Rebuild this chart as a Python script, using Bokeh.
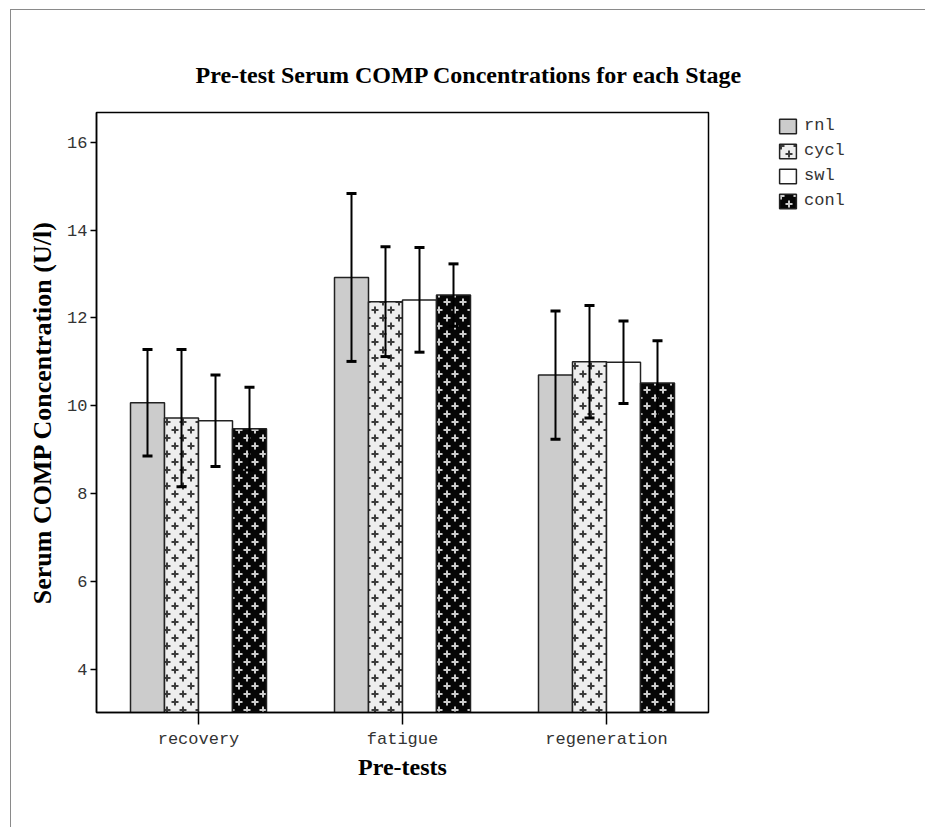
import base64
import struct
import zlib

from bokeh.core.properties import value
from bokeh.embed import file_html
from bokeh.models import (ColumnDataSource, FactorRange, FixedTicker, ImageURLTexture,
                          Legend, LegendItem, Range1d, Whisker)
from bokeh.plotting import figure
from bokeh.resources import INLINE
from bokeh.transform import dodge

# ---------------- data ----------------
categories = ["recovery", "fatigue", "regeneration"]
series = ["rnl", "cycl", "swl", "conl"]

rnl_mean = [10.07, 12.92, 10.70]
rnl_err = [1.21, 1.91, 1.46]
cycl_mean = [9.72, 12.37, 11.00]
cycl_err = [1.56, 1.25, 1.28]
swl_mean = [9.66, 12.41, 10.99]
swl_err = [1.04, 1.19, 0.94]
conl_mean = [9.48, 12.52, 10.52]
conl_err = [0.94, 0.71, 0.96]

y_ticks = [4, 6, 8, 10, 12, 14, 16]

means = {"rnl": rnl_mean, "cycl": cycl_mean, "swl": swl_mean, "conl": conl_mean}
errs = {"rnl": rnl_err, "cycl": cycl_err, "swl": swl_err, "conl": conl_err}


# ---------------- pattern textures ----------------
def make_png(w, h, pixel):
    rows = []
    for yy in range(h):
        row = bytearray([0])
        for xx in range(w):
            row.extend(pixel(xx, yy))
        rows.append(bytes(row))
    raw = b"".join(rows)

    def chunk(t, d):
        c = struct.pack(">I", len(d)) + t + d
        return c + struct.pack(">I", zlib.crc32(t + d) & 0xFFFFFFFF)

    png = (b"\x89PNG\r\n\x1a\n"
           + chunk(b"IHDR", struct.pack(">IIBBBBB", w, h, 8, 6, 0, 0, 0))
           + chunk(b"IDAT", zlib.compress(raw))
           + chunk(b"IEND", b""))
    return "data:image/png;base64," + base64.b64encode(png).decode()


def plus_tile(bg, fg, mid, size=16):
    centers = [(4, 4), (12, 12)]

    def pix(x, y):
        for cx, cy in centers:
            dx, dy = x - cx, y - cy
            if (-1 <= dy <= 0 and -3 <= dx <= 2) or (-1 <= dx <= 0 and -3 <= dy <= 2):
                return (*fg, 255)
        for cx, cy in centers:
            dx, dy = x - cx, y - cy
            if (-1 <= dy <= 0 and -4 <= dx <= 3) or (-1 <= dx <= 0 and -4 <= dy <= 3):
                return (*mid, 255)
        return (*bg, 255)

    return make_png(size, size, pix)


cycl_tex = ImageURLTexture(url=plus_tile((238, 238, 238), (60, 60, 60), (150, 150, 150)))
conl_tex = ImageURLTexture(url=plus_tile((6, 6, 6), (205, 205, 205), (110, 110, 110)))

styles = {
    "rnl": dict(fill_color="#cccccc"),
    "cycl": dict(fill_color="#eeeeee", hatch_pattern=value("cyc"), hatch_extra={"cyc": cycl_tex}),
    "swl": dict(fill_color="white"),
    "conl": dict(fill_color="#060606", hatch_pattern=value("con"), hatch_extra={"con": conl_tex}),
}

# ---------------- source ----------------
data = {"cat": categories}
for s in series:
    data[s] = means[s]
    data[s + "_up"] = [m + e for m, e in zip(means[s], errs[s])]
    data[s + "_lo"] = [m - e for m, e in zip(means[s], errs[s])]
src = ColumnDataSource(data)

# ---------------- figure ----------------
p = figure(
    x_range=FactorRange(*categories, range_padding=0),
    y_range=Range1d(3.02, 16.675),
    frame_width=612, frame_height=600,
    min_border_left=85, min_border_right=217, min_border_top=102, min_border_bottom=115,
    output_backend="svg", toolbar_location=None,
    title="Pre-test Serum COMP Concentrations for each Stage",
)
p.margin = (9, 0, 0, 10)
p.styles = {"border-top": "1px solid #8a8a8a", "border-left": "1px solid #8a8a8a"}

p.background_fill_color = "white"
p.border_fill_color = "white"
p.outline_line_color = "black"
p.outline_line_width = 1.5
p.xgrid.visible = False
p.ygrid.visible = False

p.title.text_font = "Liberation Serif"
p.title.text_font_style = "bold"
p.title.text_font_size = "24px"
p.title.text_color = "black"
p.title.align = "left"
p.title.offset = 99
p.title.standoff = 49

bar_w = 1.0 / 6
offsets = [-0.25, -1.0 / 12, 1.0 / 12, 0.25]
items = []
for s, off in zip(series, offsets):
    r = p.vbar(x=dodge("cat", off, range=p.x_range), top=s, bottom=0, width=bar_w,
               source=src, line_color="#222222", line_width=1.5, **styles[s])
    items.append(LegendItem(label=s, renderers=[r]))
    w = Whisker(source=src, base=dodge("cat", off, range=p.x_range), upper=s + "_up",
                lower=s + "_lo", line_color="black", line_width=2, level="overlay")
    for h in (w.upper_head, w.lower_head):
        h.size = 10
        h.line_width = 3
        h.line_color = "black"
    p.add_layout(w)

# axes
p.yaxis.ticker = FixedTicker(ticks=y_ticks)
p.yaxis.minor_tick_line_color = None
p.yaxis.major_tick_out = 6
p.yaxis.major_tick_in = 0
p.yaxis.axis_label = "Serum COMP Concentration (U/l)"
p.xaxis.axis_label = "Pre-tests"
p.xaxis.major_tick_out = 12
p.xaxis.major_tick_in = 0
for ax in (p.xaxis, p.yaxis):
    ax.axis_line_width = 1.5
    ax.major_tick_line_width = 1.5
    ax.major_label_text_font = "Liberation Mono"
    ax.major_label_text_font_size = "17px"
    ax.major_label_text_color = "#333333"
    ax.axis_label_text_font = "Liberation Serif"
    ax.axis_label_text_font_style = "bold"
    ax.axis_label_text_color = "black"
p.xaxis.axis_label_text_font_size = "24px"
p.yaxis.axis_label_text_font_size = "26px"
p.xaxis.major_label_standoff = 5
p.xaxis.axis_label_standoff = 2
p.yaxis.major_label_standoff = 3
p.yaxis.axis_label_standoff = 7

legend = Legend(items=items, location=(69, 502), orientation="vertical",
                glyph_width=21, glyph_height=18, label_height=18, spacing=6,
                padding=0, margin=0, label_standoff=6,
                label_text_font="Liberation Mono", label_text_font_size="17px",
                label_text_color="#333333",
                border_line_alpha=0, background_fill_alpha=0)
p.add_layout(legend, "right")

open("out.html", "w").write(file_html(p, INLINE))
